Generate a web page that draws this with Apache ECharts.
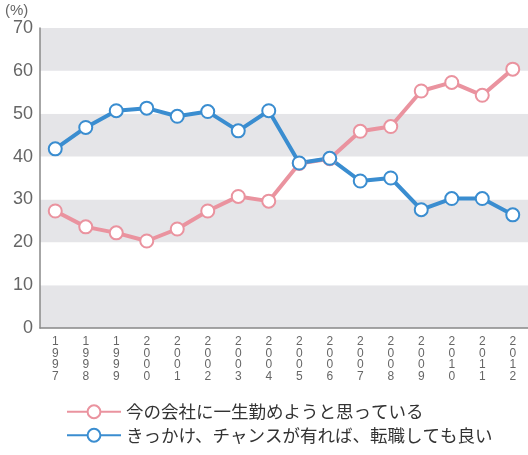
<!DOCTYPE html>
<html>
<head>
<meta charset="utf-8">
<script src="https://cdn.jsdelivr.net/npm/echarts@6/dist/echarts.min.js"></script>
<style>
  html, body { margin: 0; padding: 0; background: #fff; }
  #chart { width: 528px; height: 455px; }
</style>
</head>
<body>
<div id="chart"></div>
<script>
// Survey years (vertical labels on the x axis)
const years = ['1997','1998','1999','2000','2001','2002','2003','2004','2005','2006','2007','2008','2009','2010','2011','2012'];

// "Intend to stay at the current company for life" (%)
const stayValues = [27.3, 23.6, 22.2, 20.3, 23.1, 27.3, 30.7, 29.6, 38.4, 39.5, 45.9, 47.0, 55.3, 57.3, 54.3, 60.4];
// "Would change jobs given a chance" (%)
const changeValues = [41.8, 46.8, 50.7, 51.3, 49.4, 50.5, 46.0, 50.7, 38.5, 39.6, 34.3, 35.0, 27.6, 30.2, 30.2, 26.4];

const seriesNames = ['今の会社に一生勤めようと思っている', 'きっかけ、チャンスが有れば、転職しても良い'];
const yTicks = { min: 0, max: 70, interval: 10 };

const pink = '#ea939f';
const blue = '#3a8dd0';
const jpFont = '"Noto Sans CJK JP", "Noto Sans", sans-serif';
const numFont = '"Liberation Sans", "DejaVu Sans", sans-serif';

const chart = echarts.init(document.getElementById('chart'), null, { renderer: 'canvas' });

function lineSeries(name, data, color) {
  return {
    name: name,
    type: 'line',
    data: data,
    symbol: 'circle',
    symbolSize: 13,
    showAllSymbol: true,
    lineStyle: { color: color, width: 4 },
    itemStyle: { color: '#fff', borderColor: color, borderWidth: 2 },
    emphasis: { disabled: true },
    z: 3
  };
}

chart.setOption({
  animation: false,
  backgroundColor: '#fff',
  grid: { left: 40, right: 0, top: 28, bottom: 127, containLabel: false },
  graphic: [{
    type: 'text', left: 5, top: 3,
    style: { text: '(%)', font: '15px ' + numFont, fill: '#666' }
  }],
  xAxis: {
    type: 'category',
    data: years,
    boundaryGap: true,
    axisLine: { lineStyle: { color: '#888', width: 1.5 } },
    axisTick: { show: false },
    axisLabel: {
      interval: 0,
      margin: 8,
      color: '#666',
      fontFamily: numFont,
      fontSize: 12,
      lineHeight: 11.5,
      formatter: v => v.split('').join('\n')
    },
    splitLine: { show: false }
  },
  yAxis: {
    type: 'value',
    min: yTicks.min, max: yTicks.max, interval: yTicks.interval,
    axisLine: { show: true, lineStyle: { color: '#888', width: 1.5 } },
    axisTick: { show: false },
    axisLabel: { color: '#666', fontFamily: numFont, fontSize: 18, margin: 7 },
    splitLine: { show: false },
    splitArea: { show: true, areaStyle: { color: ['#e5e5e8', '#ffffff'] } }
  },
  legend: {
    orient: 'vertical',
    left: 61, top: 398,
    itemWidth: 54, itemHeight: 16,
    itemGap: 6,
    textStyle: { color: '#333', fontFamily: jpFont, fontSize: 17.5 },
    data: seriesNames
  },
  series: [
    lineSeries(seriesNames[0], stayValues, pink),
    lineSeries(seriesNames[1], changeValues, blue)
  ]
});
</script>
</body>
</html>
